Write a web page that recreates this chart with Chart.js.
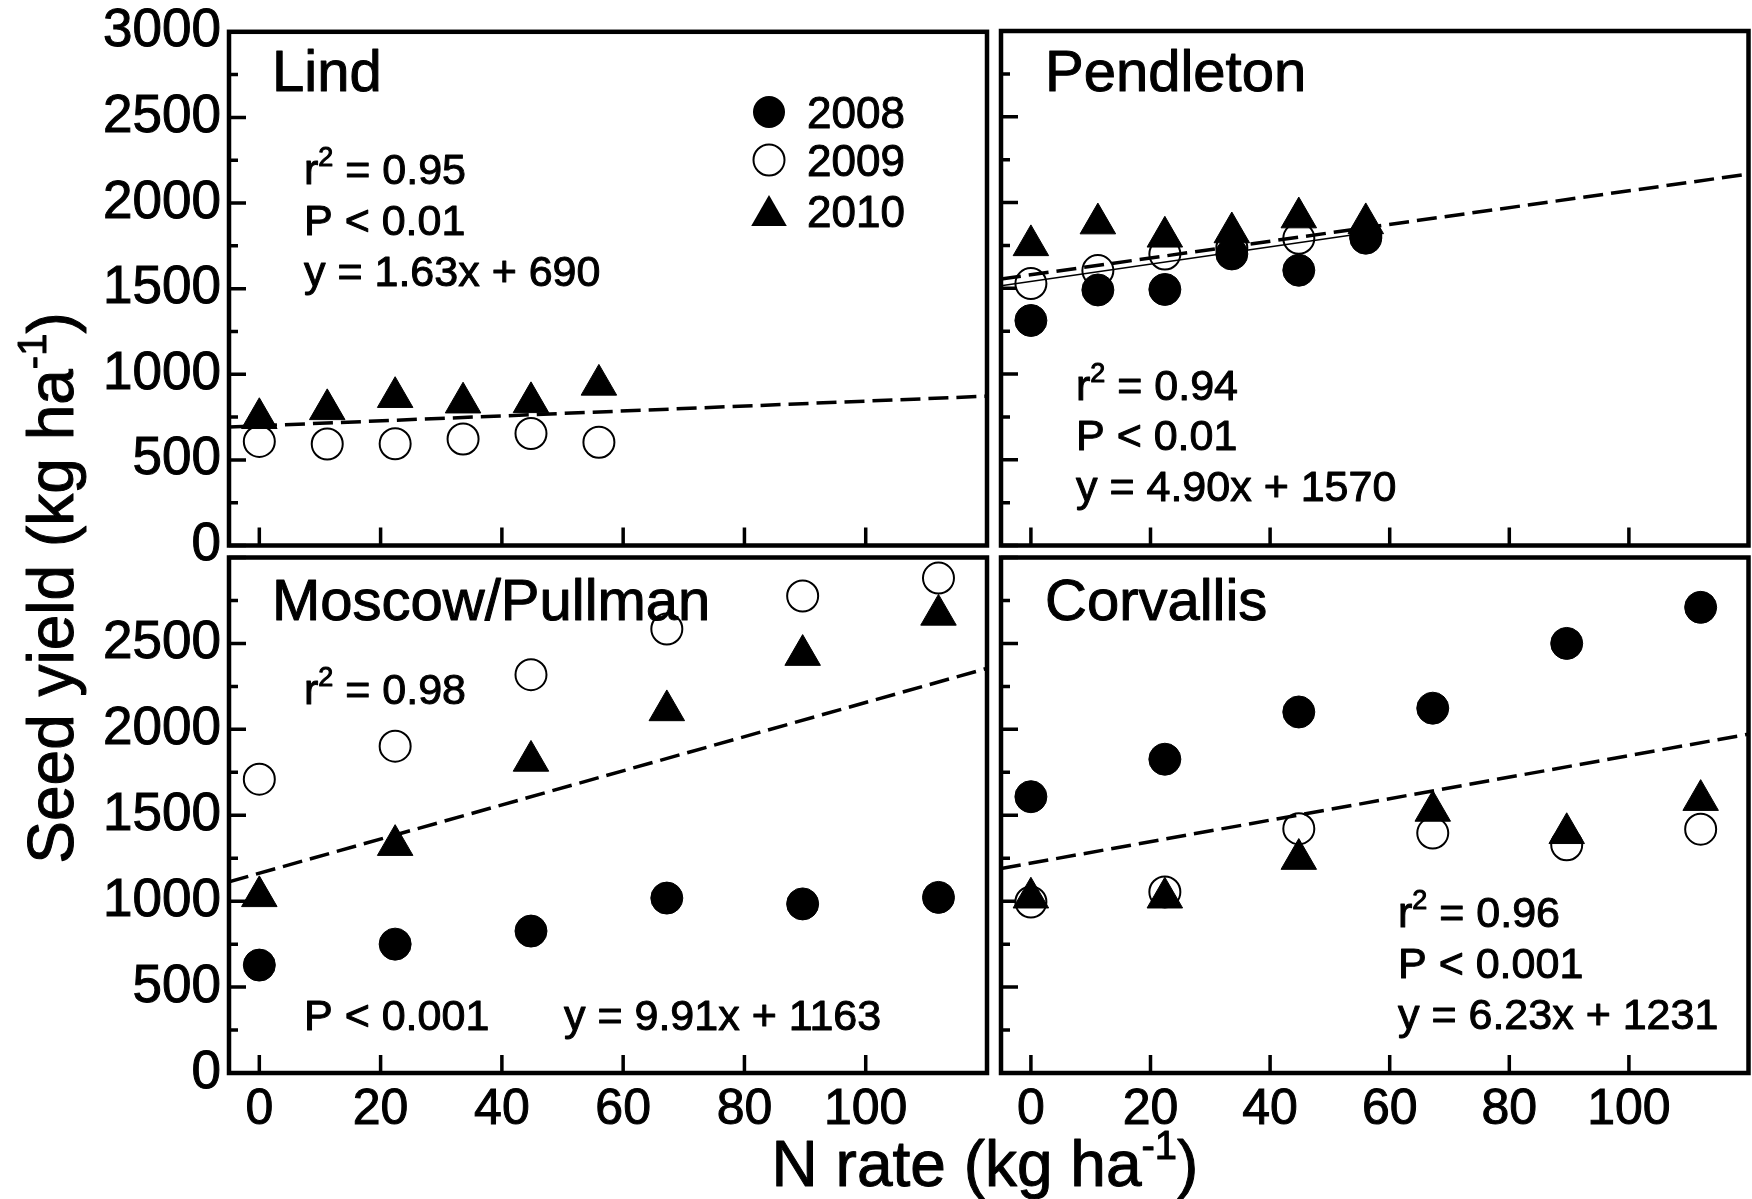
<!DOCTYPE html>
<html>
<head>
<meta charset="utf-8">
<script src="https://cdn.jsdelivr.net/npm/chart.js@4.4.1/dist/chart.umd.min.js"></script>
<style>
  body { margin: 0; width: 1752px; height: 1199px; overflow: hidden; background: #fff; position: relative; }
  canvas { position: absolute; left: 0; top: 0; }
</style>
</head>
<body>
<canvas id="lind" width="1770" height="1199"></canvas>
<canvas id="pend" width="1770" height="1199"></canvas>
<canvas id="moscow" width="1770" height="1199"></canvas>
<canvas id="corv" width="1770" height="1199"></canvas>
<script>
// N rates (kg/ha)
const nRateA = [0, 11.2, 22.4, 33.6, 44.8, 56];    // Lind, Pendleton
const nRateB = [0, 22.4, 44.8, 67.2, 89.6, 112];   // Moscow/Pullman, Corvallis

// seed yield (kg/ha)
const lind2009 = [608, 593, 594, 622, 654, 603];
const lind2010 = [743, 795, 866, 834, 836, 938];

const pend2008 = [1312, 1490, 1493, 1700, 1605, 1792];
const pend2009 = [1527, 1603, 1699, 1735, 1791, 1805];
const pend2010 = [1750, 1877, 1800, 1825, 1912, 1878];

const mosc2008 = [628, 750, 826, 1018, 984, 1022];
const mosc2009 = [1710, 1902, 2318, 2584, 2776, 2880];
const mosc2010 = [1028, 1326, 1816, 2110, 2432, 2666];

const corv2008 = [1608, 1826, 2101, 2123, 2500, 2710];
const corv2009 = [995, 1054, 1422, 1396, 1328, 1419];
const corv2010 = [1020, 1020, 1245, 1525, 1395, 1588];

// regression lines, end points
const fitX = [-5, 120];
const lindFit = [692, 872];
const pendFit = [1554, 2166];
const moscFit = [1113, 2355];
const corvFit = [1190, 1972];
const pend2009FitX = [-5, 56];
const pend2009Fit = [1515, 1822];

const yearLabels = ['2008', '2009', '2010'];

const FONT = "'Liberation Sans', Arial, Helvetica, sans-serif";
const W = 1770, H = 1199;

const areas = {
  lind:   { left: 229,  top: 31,    right: 987,    bottom: 545.5 },
  pend:   { left: 1001, top: 31,    right: 1759.5, bottom: 545.5 },
  moscow: { left: 229,  top: 557.5, right: 987,    bottom: 1073 },
  corv:   { left: 1001, top: 557.5, right: 1759.5, bottom: 1073 }
};

const pts = (xs, ys) => xs.map((x, i) => ({ x: x, y: ys[i] }));

function filled(xs, ys) {
  return { label: '2008', data: pts(xs, ys), pointStyle: 'circle', pointRadius: 16,
           backgroundColor: '#000', borderColor: '#000', borderWidth: 1 };
}
function open(xs, ys) {
  return { label: '2009', data: pts(xs, ys), pointStyle: 'circle', pointRadius: 15.5,
           backgroundColor: '#fff', borderColor: '#000', borderWidth: 2 };
}
function tri(xs, ys) {
  return { label: '2010', data: pts(xs, ys), pointStyle: 'triangle', pointRadius: 20.5,
           backgroundColor: '#000', borderColor: '#000', borderWidth: 1 };
}
function fit(xs, ys, dashed) {
  return { label: 'fit', data: pts(xs, ys), showLine: true, pointRadius: 0,
           borderColor: '#000', borderWidth: dashed ? 3.5 : 1.5, borderDash: dashed ? [20, 8] : [] };
}

// draws text with optional superscript parts: ['r', {sup: '2'}, ' = 0.95']
function rich(ctx, x, y, parts, size, align) {
  const supSize = Math.round(size * 0.62);
  const setFont = p => { ctx.font = (typeof p === 'string' ? size : supSize) + 'px ' + FONT; };
  const width = p => { setFont(p); return ctx.measureText(typeof p === 'string' ? p : p.sup).width; };
  const total = parts.reduce((s, p) => s + width(p), 0);
  let cx = align === 'center' ? x - total / 2 : x;
  ctx.textAlign = 'left';
  ctx.textBaseline = 'alphabetic';
  ctx.strokeStyle = '#000';
  ctx.lineWidth = 1;
  ctx.lineJoin = 'round';
  parts.forEach(p => {
    const w = width(p);
    const t = typeof p === 'string' ? p : p.sup;
    const ty = typeof p === 'string' ? y : y - size * 0.42;
    ctx.fillText(t, cx, ty);
    ctx.strokeText(t, cx, ty);
    cx += w;
  });
}

// frame + inward ticks
const framePlugin = {
  id: 'frame',
  beforeDatasetsDraw(chart) {
    const { ctx, chartArea: a, scales: { x, y } } = chart;
    ctx.save();
    ctx.strokeStyle = '#000';
    ctx.lineCap = 'butt';
    ctx.lineWidth = 3.5;
    ctx.beginPath();
    y.ticks.forEach(t => {
      const py = y.getPixelForValue(t.value);
      const len = t.value % 500 === 0 ? 17 : 9;
      ctx.moveTo(a.left, py);
      ctx.lineTo(a.left + len, py);
    });
    x.ticks.forEach(t => {
      if (t.value < 0 || t.value > 100) return;
      const px = x.getPixelForValue(t.value);
      ctx.moveTo(px, a.bottom);
      ctx.lineTo(px, a.bottom - 18);
    });
    ctx.stroke();
    ctx.lineWidth = 4.5;
    ctx.strokeRect(a.left, a.top, a.right - a.left, a.bottom - a.top);
    ctx.restore();
  }
};

const panelText = {
  lind: ctx => {
    rich(ctx, 272, 91, ['Lind'], 58);
    rich(ctx, 304, 184, ['r', { sup: '2' }, ' = 0.95'], 43);
    rich(ctx, 304, 235, ['P < 0.01'], 43);
    rich(ctx, 304, 286, ['y = 1.63x + 690'], 43);
    // legend
    ctx.lineWidth = 2;
    ctx.strokeStyle = '#000';
    ctx.fillStyle = '#000';
    ctx.beginPath(); ctx.arc(769, 112, 16, 0, Math.PI * 2); ctx.fill();
    ctx.fillStyle = '#fff';
    ctx.beginPath(); ctx.arc(769, 160, 15.5, 0, Math.PI * 2); ctx.fill(); ctx.stroke();
    ctx.fillStyle = '#000';
    ctx.beginPath(); ctx.moveTo(769, 195); ctx.lineTo(786.8, 226); ctx.lineTo(751.2, 226); ctx.closePath(); ctx.fill();
    rich(ctx, 807, 128, [yearLabels[0]], 44);
    rich(ctx, 807, 176, [yearLabels[1]], 44);
    rich(ctx, 807, 227, [yearLabels[2]], 44);
  },
  pend: ctx => {
    rich(ctx, 1045, 91, ['Pendleton'], 58);
    rich(ctx, 1076, 400, ['r', { sup: '2' }, ' = 0.94'], 43);
    rich(ctx, 1076, 450, ['P < 0.01'], 43);
    rich(ctx, 1076, 501, ['y = 4.90x + 1570'], 43);
  },
  moscow: ctx => {
    rich(ctx, 272, 620, ['Moscow/Pullman'], 58);
    rich(ctx, 304, 704, ['r', { sup: '2' }, ' = 0.98'], 43);
    rich(ctx, 304, 1030, ['P < 0.001'], 43);
    rich(ctx, 564, 1030, ['y = 9.91x + 1163'], 43);
    // axis titles
    rich(ctx, 985, 1186, ['N rate (kg ha', { sup: '-1' }, ')'], 64, 'center');
    ctx.save();
    ctx.translate(73, 588);
    ctx.rotate(-Math.PI / 2);
    rich(ctx, 0, 0, ['Seed yield (kg ha', { sup: '-1' }, ')'], 64, 'center');
    ctx.restore();
  },
  corv: ctx => {
    rich(ctx, 1045, 620, ['Corvallis'], 58);
    rich(ctx, 1398, 927, ['r', { sup: '2' }, ' = 0.96'], 43);
    rich(ctx, 1398, 978, ['P < 0.001'], 43);
    rich(ctx, 1398, 1029, ['y = 6.23x + 1231'], 43);
  }
};

const textPlugin = {
  id: 'panelText',
  afterDraw(chart) {
    const ctx = chart.ctx;
    ctx.save();
    ctx.fillStyle = '#000';
    panelText[chart.canvas.id](ctx);
    ctx.restore();
  }
};

function panel(id, datasets, showX, showY, hideTop) {
  const area = areas[id];
  return new Chart(document.getElementById(id), {
    type: 'scatter',
    data: { datasets: datasets },
    options: {
      responsive: false,
      animation: false,
      devicePixelRatio: 1,
      layout: { padding: { left: 0, top: area.top, right: W - area.right, bottom: 0 } },
      plugins: { legend: { display: false }, tooltip: { enabled: false } },
      scales: {
        x: {
          type: 'linear', min: -5, max: 120,
          grid: { display: false }, border: { display: false },
          ticks: {
            display: showX, stepSize: 20, includeBounds: false, autoSkip: false, maxRotation: 0,
            padding: -1, color: '#000', font: { family: FONT, size: 50 },
            textStrokeColor: '#000', textStrokeWidth: 1,
            callback: v => (v >= 0 && v <= 100) ? v : ''
          },
          afterFit: s => { s.height = H - area.bottom; }
        },
        y: {
          type: 'linear', min: 0, max: 3000,
          grid: { display: false }, border: { display: false },
          ticks: {
            display: showY, stepSize: 250, autoSkip: false,
            padding: 0, color: '#000', font: { family: FONT, size: 53 },
            textStrokeColor: '#000', textStrokeWidth: 1,
            callback: v => (v % 500 === 0 && !(hideTop && v === 3000)) ? v : ''
          },
          afterFit: s => { s.width = area.left; }
        }
      }
    },
    plugins: [framePlugin, textPlugin]
  });
}

// first dataset is drawn on top
panel('lind', [
  fit(fitX, lindFit, true),
  tri(nRateA, lind2010),
  open(nRateA, lind2009)
], false, true, false);

panel('pend', [
  fit(fitX, pendFit, true),
  fit(pend2009FitX, pend2009Fit, false),
  filled(nRateA, pend2008),
  tri(nRateA, pend2010),
  open(nRateA, pend2009)
], false, false, false);

panel('moscow', [
  fit(fitX, moscFit, true),
  filled(nRateB, mosc2008),
  tri(nRateB, mosc2010),
  open(nRateB, mosc2009)
], true, true, true);

panel('corv', [
  fit(fitX, corvFit, true),
  filled(nRateB, corv2008),
  tri(nRateB, corv2010),
  open(nRateB, corv2009)
], true, false, true);
</script>
</body>
</html>
